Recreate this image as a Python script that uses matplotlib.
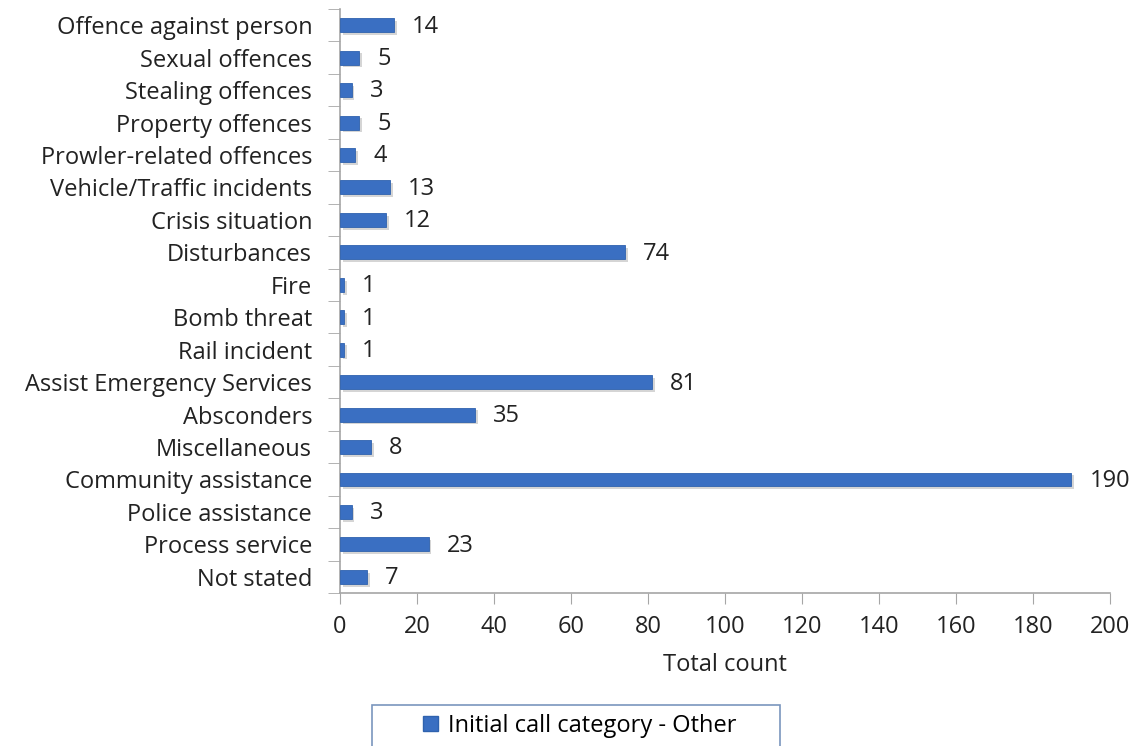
import numpy as np
import matplotlib
matplotlib.use("Agg")
import matplotlib.pyplot as plt
import matplotlib.patheffects as pe
from matplotlib.patches import Rectangle

categories = [
    "Offence against person", "Sexual offences", "Stealing offences",
    "Property offences", "Prowler-related offences", "Vehicle/Traffic incidents",
    "Crisis situation", "Disturbances", "Fire", "Bomb threat", "Rail incident",
    "Assist Emergency Services", "Absconders", "Miscellaneous",
    "Community assistance", "Police assistance", "Process service", "Not stated",
]
counts = [14, 5, 3, 5, 4, 13, 12, 74, 1, 1, 1, 81, 35, 8, 190, 3, 23, 7]
x_ticks = [0, 20, 40, 60, 80, 100, 120, 140, 160, 180, 200]

plt.rcParams["font.family"] = ["Open Sans", "DejaVu Sans"]
bar_color = "#3a6fc2"
axis_gray = "#a6a6a6"
text_color = "#222222"
fs = 17

fig = plt.figure(figsize=(11.36, 7.46), dpi=100)
ax = fig.add_axes([0.2993, 0.205, 0.6778, 0.783])

y = np.arange(len(categories))
bars = ax.barh(y, counts, height=0.43, color=bar_color, edgecolor="#2f62ae",
               linewidth=0.6, zorder=3)
for b in bars:
    b.set_path_effects([pe.SimplePatchShadow(offset=(2, -2), shadow_rgbFace="#888888", alpha=0.35),
                        pe.Normal()])

for yi, v in zip(y, counts):
    ax.annotate(str(v), (v, yi), xytext=(13, -1), textcoords="offset points",
                va="center", ha="left", fontsize=fs, color=text_color)

ax.set_ylim(len(categories) - 0.5, -0.5)
ax.set_xlim(0, 200)
ax.set_xticks(x_ticks)
ax.set_xticklabels([str(t) for t in x_ticks])
ax.set_yticks(y)
ax.set_yticklabels(categories)
ax.set_yticks(np.arange(-0.5, len(categories)), minor=True)

ax.tick_params(axis="y", which="major", length=0, pad=20, labelsize=fs, labelcolor=text_color)
ax.tick_params(axis="y", which="minor", length=9, color=axis_gray, direction="out")
ax.tick_params(axis="x", which="major", length=8, color=axis_gray, direction="out",
               pad=8, labelsize=fs, labelcolor=text_color)

for side in ["top", "right"]:
    ax.spines[side].set_visible(False)
for side in ["left", "bottom"]:
    ax.spines[side].set_color(axis_gray)
    ax.spines[side].set_linewidth(1.2)

ax.set_xlabel("Total count", fontsize=fs, color=text_color, labelpad=10)

# legend box sits at the bottom edge, partly cut off
fig.patches.append(Rectangle((372 / 1136, -0.02), 408 / 1136, 41 / 746 + 0.02,
                             transform=fig.transFigure, facecolor="white",
                             edgecolor="#7a96bd", linewidth=1.2))
leg_handle = Rectangle((0, 0), 1, 1, facecolor=bar_color, edgecolor="#2f62ae")
fig.legend(handles=[leg_handle], labels=["Initial call category - Other"],
           loc="center", bbox_to_anchor=(580 / 1136, 1 - 726 / 746),
           frameon=False, fontsize=fs, handlelength=0.6, handleheight=0.6,
           handletextpad=0.45, borderpad=0, borderaxespad=0)

fig.savefig("out.png", dpi=100, facecolor="white")
